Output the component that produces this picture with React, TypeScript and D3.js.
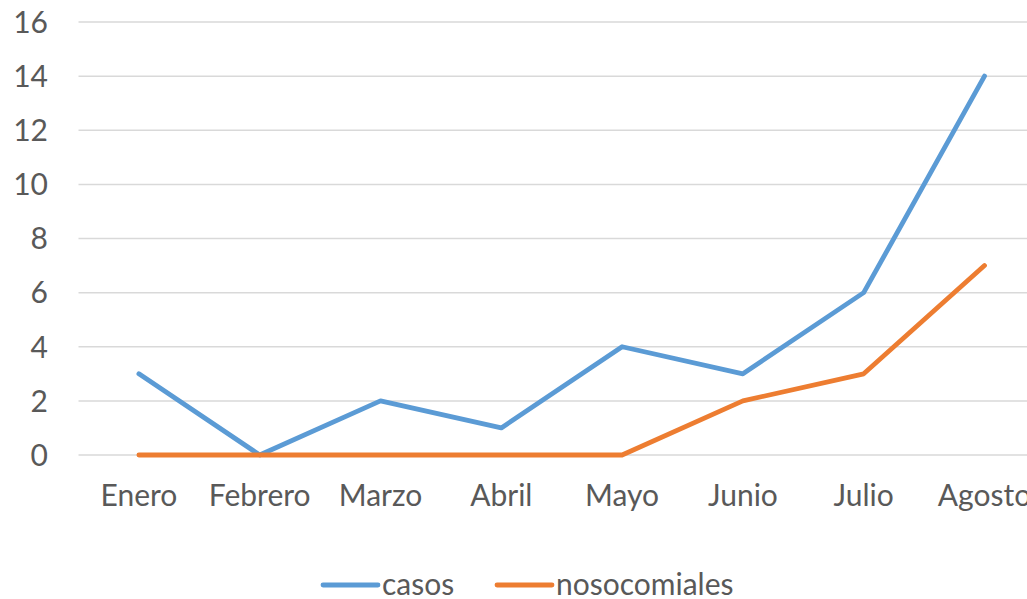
import React from "react";
import * as d3 from "d3";

const months = ["Enero", "Febrero", "Marzo", "Abril", "Mayo", "Junio", "Julio", "Agosto"];
const casos = [3, 0, 2, 1, 4, 3, 6, 14];
const nosocomiales = [0, 0, 0, 0, 0, 2, 3, 7];
const yTicks = [0, 2, 4, 6, 8, 10, 12, 14, 16];

const seriesList = [
  { name: "casos", values: casos, color: "#5B9BD5" },
  { name: "nosocomiales", values: nosocomiales, color: "#ED7D31" },
];

const App = () => {
  const width = 1027;
  const height = 599;
  const plotLeft = 78.5;
  const step = 120.8;
  const font = "Lato, 'Open Sans', sans-serif";
  const fontSize = 30;

  const x = d3
    .scalePoint<string>()
    .domain(months)
    .range([plotLeft + step / 2, plotLeft + step / 2 + step * (months.length - 1)]);

  const y = d3.scaleLinear().domain([0, 16]).range([455, 22]);

  const line = d3
    .line<number>()
    .x((d, i) => x(months[i]) as number)
    .y((d) => y(d));

  return (
    <svg
      width={width}
      height={height}
      style={{ position: "absolute", left: 0, top: 0, background: "#fff" }}
    >
      {yTicks.map((t) => (
        <g key={t}>
          <line x1={plotLeft} x2={width} y1={y(t)} y2={y(t)} stroke="#D9D9D9" strokeWidth={1.5} />
          <text
            x={48}
            y={y(t)}
            dy="0.36em"
            textAnchor="end"
            fontFamily={font}
            fontSize={fontSize}
            fill="#595959"
          >
            {t}
          </text>
        </g>
      ))}
      {months.map((m) => (
        <text
          key={m}
          x={x(m)}
          y={506}
          textAnchor="middle"
          fontFamily={font}
          fontSize={fontSize}
          fill="#595959"
        >
          {m}
        </text>
      ))}
      {seriesList.map((s) => (
        <path
          key={s.name}
          d={line(s.values) as string}
          fill="none"
          stroke={s.color}
          strokeWidth={4.8}
          strokeLinejoin="round"
          strokeLinecap="round"
        />
      ))}
      {seriesList.map((s, i) => {
        const lx = i === 0 ? 323 : 497;
        return (
          <g key={s.name}>
            <line x1={lx} x2={lx + 55} y1={585} y2={585} stroke={s.color} strokeWidth={4.8} strokeLinecap="round" />
            <text x={lx + 59} y={585} dy="0.34em" fontFamily={font} fontSize={fontSize} fill="#595959">
              {s.name}
            </text>
          </g>
        );
      })}
    </svg>
  );
};

export default App;
